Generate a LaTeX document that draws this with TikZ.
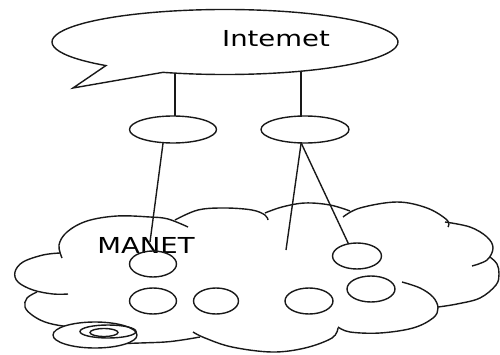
\documentclass[tikz,border=0pt]{standalone}
\usepackage{fontspec}
\newfontfamily\labelfont{DejaVu Sans}
\usetikzlibrary{shapes.geometric}
\newcommand{\wide}[1]{\scalebox{1.25}[1]{#1}}

\tikzset{
  wire/.style={line width=1.4pt, black!90},
  host/.style={wire, draw, ellipse, inner sep=0pt, outer sep=0pt,
    minimum width=47pt, minimum height=26pt},
  gate/.style={host, minimum width=87pt, minimum height=27pt},
  tag/.style={font=\labelfont\fontsize{22}{26}\selectfont, anchor=base, inner sep=0pt},
  puff/.style={wire, smooth, tension=0.6},
}

\begin{document}
\begin{tikzpicture}[x=1pt, y=1pt]
\useasboundingbox (0,0) rectangle (500,354);

% speech bubble on top
\node[ellipse, minimum width=346pt, minimum height=65pt, inner sep=0pt, outer sep=0pt] (inet) at (225,312) {};
\coordinate (tip) at (73,266);
\draw[wire] (inet.center) ++(249:173 and 32.5)
	arc[start angle=249, end angle=586.5, x radius=173, y radius=32.5]
	-- (tip) -- cycle;
\node[tag] (inetlabel) at (276,307) {\wide{Intemet}};

% gateways
\node[gate] (gw1) at (173,224.5) {};
\node[gate, minimum width=88pt] (gw2) at (305,224.5) {};

% the cloud, one puff at a time
\draw[puff] plot coordinates {(62,96) (59,109) (67,122) (87,133) (117,138) (150,137) (168,135) (188,127)};
\draw[puff] plot coordinates {(175,134) (198,144) (225,146) (252,144) (265,139) (268,134)};
\draw[puff] plot coordinates {(265,141) (282,147) (305,151) (330,149) (350,143)};
\draw[puff] plot coordinates {(343,137) (360,146) (397,152) (427,146) (447,134) (448,127)};
\draw[puff] plot coordinates {(445,132) (470,127) (487,117) (493,106) (487,94) (472,88)};
\draw[puff] plot coordinates {(490,97) (497,90) (499,80) (496,69) (480,56) (457,50) (438,47)};
\draw[puff] plot coordinates {(402,72) (420,66) (433,57) (438,46) (433,36) (413,26) (380,21) (350,22) (338,27)};
\draw[puff] plot coordinates {(338,26) (332,16) (305,6) (272,2) (232,7) (205,16) (193,22)};
\draw[puff] plot coordinates {(200,17) (182,14) (165,12) (140,11) (110,10)};
\draw[puff] plot coordinates {(37,62) (27,56) (25,47) (32,39) (45,32) (63,28) (83,27)};
\draw[puff] plot coordinates {(60,101) (43,99) (23,92) (15,82) (18,72) (33,64) (53,60) (68,60)};

% small disc at the bottom left
\node[host, fill=white, minimum width=84pt, minimum height=26pt] (disc) at (95,19) {};
\draw[wire] (108,22.5) ellipse[x radius=28, y radius=6.5];
\draw[wire] (104,21.5) ellipse[x radius=14, y radius=4];

% mobile hosts
\node[tag] (manet) at (146,101) {\wide{MANET}};
\node[host] (n1) at (153,90) {};
\node[host] (n2) at (153,53) {};
\node[host, minimum width=45pt] (n3) at (216,53) {};
\node[host, minimum width=48pt] (n4) at (309,53) {};
\node[host, minimum width=49pt] (n5) at (357,98) {};
\node[host, minimum width=48pt] (n6) at (371,65) {};

\coordinate (e1) at (150,112);
\coordinate (e2) at (286,104);

\draw[wire]
	(inet.212.5) edge (inet.212.5 |- gw1.north)
	(inet.339) edge (inet.339 |- gw2.north)
	(gw1.233.5) edge (e1)
	(gw2.254) edge (e2)
	(gw2.254) edge (n5.125)
;
\end{tikzpicture}
\end{document}
